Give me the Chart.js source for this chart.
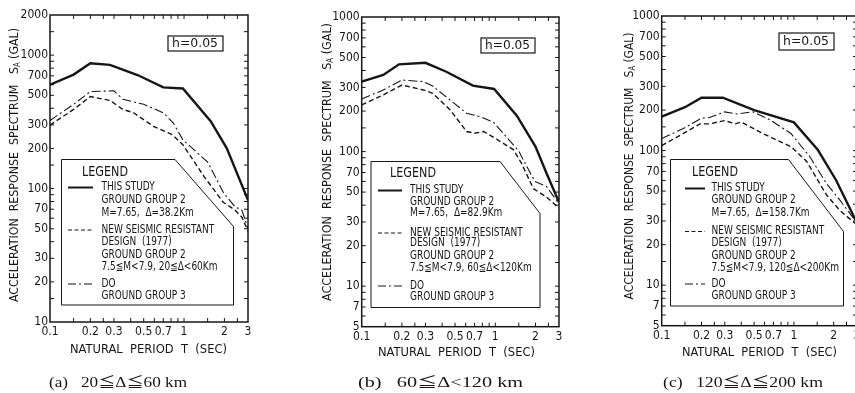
<!DOCTYPE html>
<html>
<head>
<meta charset="utf-8">
<script src="https://cdn.jsdelivr.net/npm/chart.js@4.4.1/dist/chart.umd.min.js"></script>
<style>
  html, body { margin: 0; padding: 0; background: #fff; width: 855px; height: 393px; overflow: hidden; }
  canvas { position: absolute; top: 0; }
</style>
</head>
<body>
<canvas id="pa" width="285" height="393" style="left:0px"></canvas>
<canvas id="pb" width="285" height="393" style="left:285px"></canvas>
<canvas id="pc" width="300" height="393" style="left:570px"></canvas>
<script>
// ---- axis ticks ----
const xTickValues = [0.1, 0.2, 0.3, 0.5, 0.7, 1, 2, 3];
const xMinorTicks = [0.15, 0.2, 0.25, 0.3, 0.4, 0.5, 0.6, 0.7, 0.8, 0.9, 1, 1.5, 2, 2.5];
const yTicksA = [10, 20, 30, 50, 70, 100, 200, 300, 500, 700, 1000, 2000];
const yTicksBC = [5, 7, 10, 20, 30, 50, 70, 100, 200, 300, 500, 700, 1000];

// ---- (a) 20 <= delta <= 60 km ----
const tStudyA = [0.1, 0.15, 0.2, 0.28, 0.45, 0.7, 0.98, 1.58, 2.08, 3];
const sStudyA = [600, 715, 870, 845, 710, 573, 563, 320, 201, 82];
const tNewG2A = [0.1, 0.15, 0.2, 0.28, 0.35, 0.42, 0.59, 0.82, 0.98, 1.42, 1.96, 2.4, 2.7, 3];
const sNewG2A = [299, 392, 489, 458, 392, 370, 293, 253, 213, 122, 79, 69, 61, 48];
const tNewG3A = [0.1, 0.15, 0.2, 0.3, 0.35, 0.5, 0.7, 0.83, 0.98, 1.5, 1.96, 2.4, 2.7, 3];
const sNewG3A = [324, 428, 534, 540, 467, 428, 370, 311, 232, 158, 94, 73, 69, 50];

// ---- (b) 60 <= delta < 120 km ----
const tStudyB = [0.1, 0.145, 0.19, 0.3, 0.43, 0.68, 0.98, 1.45, 2.0, 2.42, 3];
const sStudyB = [331, 371, 445, 457, 392, 309, 292, 185, 109, 69, 42];
const tNewG2B = [0.1, 0.145, 0.2, 0.29, 0.34, 0.46, 0.61, 0.7, 0.82, 1.02, 1.37, 1.57, 1.93, 2.42, 3];
const sNewG2B = [222, 264, 312, 287, 271, 204, 141, 137, 141, 124, 103, 82, 53, 46, 38];
const tNewG3B = [0.1, 0.145, 0.2, 0.29, 0.34, 0.46, 0.61, 0.77, 0.97, 1.5, 1.67, 1.98, 2.42, 3];
const sNewG3B = [246, 287, 340, 331, 307, 241, 193, 182, 165, 101, 82, 60, 55, 41];

// ---- (c) 120 <= delta <= 200 km ----
const tStudyC = [0.1, 0.15, 0.2, 0.29, 0.5, 1.0, 1.52, 2.09, 3];
const sStudyC = [179, 210, 247, 247, 200, 162, 101, 60, 29];
const tNewG2C = [0.1, 0.146, 0.195, 0.23, 0.3, 0.36, 0.4, 0.6, 0.95, 1.25, 1.76, 2.22, 3];
const sNewG2C = [109, 134, 158, 158, 167, 158, 163, 132, 107, 83, 47, 36, 28];
const tNewG3C = [0.1, 0.146, 0.2, 0.23, 0.3, 0.37, 0.49, 0.66, 0.95, 1.32, 1.76, 2.22, 3];
const sNewG3C = [123, 146, 174, 176, 194, 187, 194, 169, 134, 90, 57, 43, 29];

// ---- texts ----
const legendA = ['THIS STUDY', 'GROUND GROUP 2', 'M=7.65,  Δ=38.2Km', 'NEW SEISMIC RESISTANT', 'DESIGN  (1977)', 'GROUND GROUP 2', '7.5≦M<7.9, 20≦Δ<60Km', 'DO', 'GROUND GROUP 3'];
const legendB = ['THIS STUDY', 'GROUND GROUP 2', 'M=7.65,  Δ=82.9Km', 'NEW SEISMIC RESISTANT', 'DESIGN  (1977)', 'GROUND GROUP 2', '7.5≦M<7.9, 60≦Δ<120Km', 'DO', 'GROUND GROUP 3'];
const legendC = ['THIS STUDY', 'GROUND GROUP 2', 'M=7.65,  Δ=158.7Km', 'NEW SEISMIC RESISTANT', 'DESIGN  (1977)', 'GROUND GROUP 2', '7.5≦M<7.9, 120≦Δ<200Km', 'DO', 'GROUND GROUP 3'];
const captions = ['(a)   20≦Δ≦60 km', '(b)   60≦Δ<120 km', '(c)   120≦Δ≦200 km'];

const INK = '#161616';
const NARROW = '"Liberation Sans Narrow", "DejaVu Sans Condensed", "Noto Sans CJK JP", sans-serif';
const SERIF = '"Liberation Serif", "DejaVu Serif", "Noto Sans CJK JP", serif';

const styles = [
  { borderWidth: 2.4, borderDash: [] },
  { borderWidth: 1.4, borderDash: [5, 3] },
  { borderWidth: 1.1, borderDash: [9, 3, 2, 3] },
];

function pts(ts, vs) {
  return ts.map((t, i) => ({ x: t, y: vs[i] }));
}

// draw text squeezed/stretched to a given width, left edge at x
function fitText(ctx, text, x, y, w, font) {
  ctx.font = font;
  const m = ctx.measureText(text).width;
  ctx.save();
  ctx.translate(x, y);
  ctx.scale(w / m, 1);
  ctx.textAlign = 'left';
  ctx.fillText(text, 0, 0);
  ctx.restore();
}

function yMinorValues(min, max) {
  const out = [];
  for (let e = -1; e <= 4; e++) {
    [1, 1.5, 2, 3, 4, 5, 6, 7, 8, 9].forEach(m => {
      const v = m * Math.pow(10, e);
      if (v > min * 1.001 && v < max * 0.999) out.push(v);
    });
  }
  return out;
}

function makeDecor(p) {
  return {
    id: 'decor',
    afterDatasetsDraw(chart) {
      const ctx = chart.ctx;
      const a = chart.chartArea;
      const xs = chart.scales.x, ys = chart.scales.y;
      ctx.save();
      ctx.strokeStyle = INK;
      ctx.fillStyle = INK;
      ctx.textBaseline = 'middle';

      // inward ticks on all sides
      ctx.lineWidth = 1;
      ctx.beginPath();
      xMinorTicks.forEach(v => {
        const x = xs.getPixelForValue(v);
        ctx.moveTo(x, a.bottom); ctx.lineTo(x, a.bottom - 4);
        ctx.moveTo(x, a.top); ctx.lineTo(x, a.top + 4);
      });
      yMinorValues(ys.min, ys.max).forEach(v => {
        const y = ys.getPixelForValue(v);
        ctx.moveTo(a.left, y); ctx.lineTo(a.left + 4, y);
        ctx.moveTo(a.right, y); ctx.lineTo(a.right - 4, y);
      });
      ctx.stroke();

      // frame
      ctx.lineWidth = 1.5;
      ctx.strokeRect(a.left, a.top, a.right - a.left, a.bottom - a.top);

      // h = 0.05 box
      const h = p.hBox;
      ctx.lineWidth = 1.2;
      ctx.strokeRect(h.x, h.y, h.w, h.h);
      fitText(ctx, 'h=0.05', h.x + 4, h.y + h.h / 2 + 0.5, h.w - 9, '13px ' + NARROW);

      // legend box with chamfered corner
      const L = p.legend;
      ctx.beginPath();
      ctx.moveTo(L.left, L.top);
      ctx.lineTo(L.chamX, L.top);
      ctx.lineTo(L.right, L.chamY);
      ctx.lineTo(L.right, L.bottom);
      ctx.lineTo(L.left, L.bottom);
      ctx.closePath();
      ctx.fillStyle = '#fff';
      ctx.fill();
      ctx.lineWidth = 1;
      ctx.stroke();
      ctx.fillStyle = INK;
      fitText(ctx, 'LEGEND', L.titleX, L.titleY, 46, '14px ' + NARROW);
      ctx.font = '11.5px ' + NARROW;
      ctx.textAlign = 'left';
      p.legendText.forEach((t, i) => {
        ctx.save();
        ctx.translate(L.textX, L.rows[i]);
        ctx.scale(0.87, 1);
        ctx.fillText(t, 0, 0);
        ctx.restore();
      });
      [0, 3, 7].forEach((r, k) => {
        ctx.save();
        ctx.lineWidth = k === 0 ? 2 : 1.2;
        ctx.setLineDash(k === 0 ? [] : (k === 1 ? [4, 2.5] : [8, 3, 2, 3]));
        ctx.beginPath();
        ctx.moveTo(L.sampleX0, L.rows[r]);
        ctx.lineTo(L.sampleX1, L.rows[r]);
        ctx.stroke();
        ctx.restore();
      });

      // y-axis title with subscript
      const T = p.yTitle;
      ctx.save();
      ctx.translate(T.x, T.cy);
      ctx.rotate(-Math.PI / 2);
      const f1 = '13px ' + NARROW, f2 = '8px ' + NARROW;
      ctx.font = f1;
      const s1 = 'ACCELERATION  RESPONSE  SPECTRUM   S';
      const s3 = ' (GAL)';
      const w1 = ctx.measureText(s1).width, w3 = ctx.measureText(s3).width;
      ctx.font = f2;
      const w2 = ctx.measureText('A').width;
      const k = T.len / (w1 + w2 + w3);
      ctx.scale(k, 1);
      let x0 = -(w1 + w2 + w3) / 2;
      ctx.textAlign = 'left';
      ctx.font = f1; ctx.fillText(s1, x0, 0);
      ctx.font = f2; ctx.fillText('A', x0 + w1, 3);
      ctx.font = f1; ctx.fillText(s3, x0 + w1 + w2, 0);
      ctx.restore();

      // x-axis title and caption
      fitText(ctx, 'NATURAL  PERIOD  T  (SEC)', p.xTitle.x, p.xTitle.y, p.xTitle.w, '13px ' + NARROW);
      fitText(ctx, p.caption, p.cap.x, p.cap.y, p.cap.w, '14px ' + SERIF);
      ctx.restore();
    }
  };
}

function makePanel(p) {
  const canvas = document.getElementById(p.id);
  const W = canvas.width, H = canvas.height;
  const series = [pts(p.t[0], p.s[0]), pts(p.t[1], p.s[1]), pts(p.t[2], p.s[2])];
  new Chart(canvas, {
    type: 'line',
    data: {
      datasets: series.map((d, i) => ({
        data: d,
        borderColor: INK,
        borderWidth: styles[i].borderWidth,
        borderDash: styles[i].borderDash,
        pointRadius: 0,
        tension: 0,
        fill: false,
      })),
    },
    options: {
      responsive: false,
      animation: false,
      devicePixelRatio: 1,
      layout: { padding: { left: 0, top: p.area.t, right: W - p.area.r, bottom: 0 } },
      plugins: { legend: { display: false }, tooltip: { enabled: false } },
      scales: {
        x: {
          type: 'logarithmic',
          min: 0.1, max: 3,
          grid: { display: false, drawTicks: false },
          border: { display: false },
          afterBuildTicks: s => { s.ticks = xTickValues.map(v => ({ value: v })); },
          afterFit: s => { s.height = H - p.area.b; },
          ticks: {
            autoSkip: false, maxRotation: 0, padding: 3,
            color: INK, font: { family: NARROW, size: 12 },
            callback: v => (v < 1 ? v.toFixed(1) : String(v)),
          },
        },
        y: {
          type: 'logarithmic',
          min: p.yMin, max: p.yMax,
          grid: { display: false, drawTicks: false },
          border: { display: false },
          afterBuildTicks: s => { s.ticks = p.yTicks.map(v => ({ value: v })); },
          afterFit: s => { s.width = p.area.l; },
          ticks: {
            autoSkip: false, padding: 2,
            color: INK, font: { family: NARROW, size: 12 },
            callback: v => String(v),
          },
        },
      },
    },
    plugins: [makeDecor(p)],
  });
}

makePanel({
  id: 'pa', area: { l: 50, r: 248, t: 15, b: 322 },
  yMin: 10, yMax: 2000, yTicks: yTicksA,
  t: [tStudyA, tNewG2A, tNewG3A], s: [sStudyA, sNewG2A, sNewG3A],
  hBox: { x: 168, y: 36, w: 55, h: 15 },
  legend: { left: 61.5, top: 159.5, chamX: 175, right: 233.5, chamY: 226.5, bottom: 305,
            titleX: 82, titleY: 172, textX: 101.5, sampleX0: 68, sampleX1: 93,
            rows: [187.5, 200, 213, 230, 242.5, 255, 267.5, 284, 296] },
  legendText: legendA,
  yTitle: { x: 15, cy: 165, len: 274 },
  xTitle: { x: 70, y: 350, w: 157 },
  caption: captions[0], cap: { x: 49, y: 383, w: 138 },
});

makePanel({
  id: 'pb', area: { l: 76.7, r: 274, t: 17, b: 326.7 },
  yMin: 5, yMax: 1000, yTicks: yTicksBC,
  t: [tStudyB, tNewG2B, tNewG3B], s: [sStudyB, sNewG2B, sNewG3B],
  hBox: { x: 196, y: 38, w: 54, h: 15 },
  legend: { left: 86, top: 161.5, chamX: 215, right: 255, chamY: 213.5, bottom: 307.5,
            titleX: 105, titleY: 173.5, textX: 125, sampleX0: 93, sampleX1: 117,
            rows: [190.5, 202.5, 213.5, 233, 243.5, 256, 268.5, 286, 297.5] },
  legendText: legendB,
  yTitle: { x: 43, cy: 162, len: 278 },
  xTitle: { x: 93, y: 353, w: 157 },
  caption: captions[1], cap: { x: 73, y: 383, w: 165 },
});

makePanel({
  id: 'pc', area: { l: 91.7, r: 287, t: 16, b: 325.7 },
  yMin: 5, yMax: 1000, yTicks: yTicksBC,
  t: [tStudyC, tNewG2C, tNewG3C], s: [sStudyC, sNewG2C, sNewG3C],
  hBox: { x: 209, y: 33, w: 55, h: 17 },
  legend: { left: 100.5, top: 159.5, chamX: 218.5, right: 273.5, chamY: 231.5, bottom: 306,
            titleX: 122, titleY: 172, textX: 141.5, sampleX0: 115, sampleX1: 135,
            rows: [188.5, 200, 213, 231.5, 243.5, 256, 268.5, 284, 296] },
  legendText: legendC,
  yTitle: { x: 60, cy: 166, len: 267 },
  xTitle: { x: 112, y: 353, w: 155 },
  caption: captions[2], cap: { x: 93, y: 383, w: 160 },
});
</script>
</body>
</html>
